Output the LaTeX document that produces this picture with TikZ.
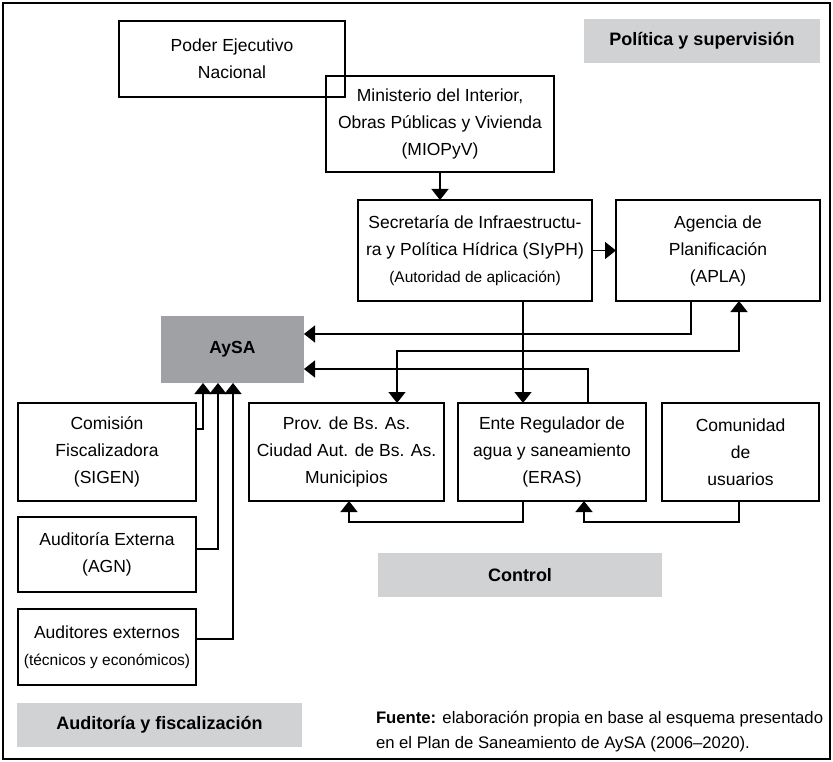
\documentclass[tikz,border=0pt]{standalone}
\usepackage{fontspec}
\setmainfont{Liberation Sans}
\usetikzlibrary{arrows.meta}
\definecolor{lgrey}{HTML}{D1D2D4}
\definecolor{dgrey}{HTML}{A0A1A4}
\begin{document}
\begin{tikzpicture}[x=1pt,y=-1pt,
  every node/.style={font=\fontsize{17.5}{27}\selectfont, inner sep=0pt, outer sep=0pt, align=center},
  box/.style={draw, line width=1.4pt},
  band/.style={fill=lgrey, font=\fontsize{18}{22}\selectfont\bfseries},
  link/.style={line width=1.4pt},
  arr/.style={link, -{Triangle[width=17pt,length=11pt]}},
  arrboth/.style={link, {Triangle[width=17pt,length=11pt]}-{Triangle[width=17pt,length=11pt]}},
  smalltxt/.style={font=\fontsize{16.7}{25}\selectfont}
]
\useasboundingbox (0,0) rectangle (833,762);
\draw[line width=2.6pt] (3,3) rectangle (830,759);

\node[box, minimum width=226pt, minimum height=76pt] (poder) at (232,59) {Poder Ejecutivo\\Nacional};
\node[box, minimum width=228pt, minimum height=96pt] (mini) at (440,124) {Ministerio del Interior,\\Obras Públicas y Vivienda\\(MIOPyV)};
\node[band, minimum width=236pt, minimum height=44pt] (pol) at (702,41) {Política y supervisión};
\node[box, minimum width=234pt, minimum height=101pt] (sec) at (475,250.5) {Secretaría de Infraestructu-\\ra y Política Hídrica (SIyPH)\\{\fontsize{15.5}{25}\selectfont (Autoridad de aplicación)}};
\node[box, minimum width=204pt, minimum height=101pt] (apla) at (718,250.5) {Agencia de\\Planificación\\(APLA)};
\node[fill=dgrey, minimum width=143pt, minimum height=67pt, font=\fontsize{17.5}{22}\selectfont\bfseries] (aysa) at (232.5,349.5) {AySA};
\node[box, minimum width=195pt, minimum height=98pt] (prov) at (346.5,452) {Prov. de Bs. As.\\Ciudad Aut. de Bs. As.\\Municipios};
\node[box, minimum width=188pt, minimum height=98pt] (eras) at (552,452) {Ente Regulador de\\agua y saneamiento\\(ERAS)};
\node[box, minimum width=157pt, minimum height=98pt] (com) at (740.5,452) {Comunidad\\de\\usuarios};
\node[box, minimum width=178pt, minimum height=98pt] (sigen) at (107,452) {Comisión\\Fiscalizadora\\(SIGEN)};
\node[box, minimum width=178pt, minimum height=75pt] (agn) at (107,554.5) {Auditoría Externa\\(AGN)};
\node[box, minimum width=178pt, minimum height=76pt] (aud) at (107,647) {Auditores externos\\{\fontsize{15.5}{25}\selectfont (técnicos y económicos)}};
\node[band, minimum width=284pt, minimum height=44pt] (ctrl) at (520,575) {Control};
\node[band, minimum width=285pt, minimum height=44pt] (afisc) at (159.5,725) {Auditoría y fiscalización};
\node[smalltxt, anchor=base west] (fuente1) at (376,723) {\textbf{Fuente:} elaboración propia en base al esquema presentado};
\node[smalltxt, anchor=base west] (fuente2) at (376,748) {en el Plan de Saneamiento de AySA (2006–2020).};

% connectors
\draw[arr] (mini.south) -- (mini.south |- sec.north);
\draw[arr] (sec.east) -- (apla.west);

\coordinate (cA) at (691,334);
\draw[arr] (apla.south -| cA) |- (aysa.east |- cA);

\coordinate (cB) at (397,351);
\coordinate (cB2) at (739,351);
\draw[arrboth] (prov.north -| cB) |- (cB2) -- (apla.south -| cB2);

\coordinate (cC) at (523,300);
\draw[arr] (sec.south -| cC) -- (eras.north -| cC);

\coordinate (cD) at (588,369);
\draw[arr] (eras.north -| cD) |- (aysa.east |- cD);

\coordinate (cE) at (203,429);
\coordinate (cF) at (218,549);
\coordinate (cG) at (233,639);
\draw[arr] (sigen.east |- cE) -| (aysa.south -| cE);
\draw[arr] (agn.east |- cF) -| (aysa.south -| cF);
\draw[arr] (aud.east |- cG) -| (aysa.south -| cG);

\coordinate (cH) at (523,522);
\coordinate (cI) at (349,522);
\draw[arr] (eras.south -| cH) |- (cI) -- (prov.south -| cI);

\coordinate (cJ) at (739,522);
\coordinate (cK) at (584,522);
\draw[arr] (com.south -| cJ) |- (cK) -- (eras.south -| cK);
\end{tikzpicture}
\end{document}
